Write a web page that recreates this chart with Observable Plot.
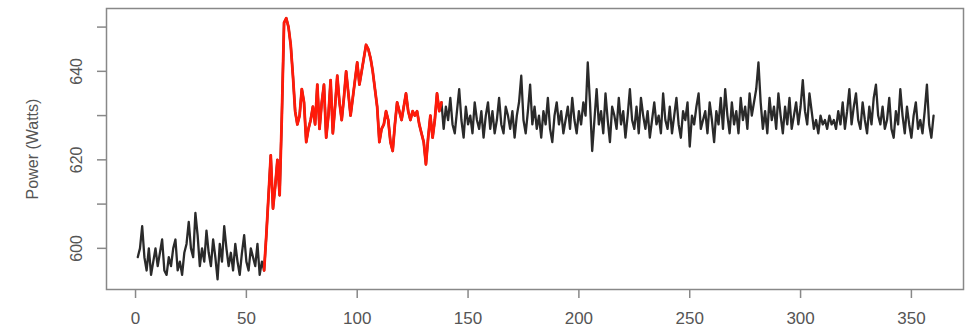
<!DOCTYPE html>
<html>
<head>
<meta charset="utf-8">
<script src="https://cdn.jsdelivr.net/npm/d3@7"></script>
<script src="https://cdn.jsdelivr.net/npm/@observablehq/plot@0.6"></script>
<style>
  html, body { margin: 0; padding: 0; background: #fff; }
  #chart { width: 965px; height: 334px; }
</style>
</head>
<body>
<div id="chart"></div>
<script>
// Power readings (Watts), one per second, starting at t = 1
const power = [
  598, 600, 605, 598, 595, 600, 594, 597, 600, 596,
  599, 602, 595, 594, 598, 596, 600, 602, 595, 597,
  594, 599, 601, 606, 600, 598, 608, 603, 596, 600,
  597, 604, 599, 596, 602, 598, 593, 601, 597, 605,
  600, 596, 599, 595, 601, 597, 594, 599, 603, 597,
  595, 600, 598, 596, 601, 594, 597, 595, 603, 612,
  621, 609, 614, 620, 612, 630, 651, 652, 650, 646,
  639, 631, 628, 630, 636, 633, 624, 627, 629, 632,
  628, 637, 627, 633, 637, 625, 630, 638, 626, 632,
  639, 633, 629, 634, 640, 635, 630, 634, 638, 642,
  637, 640, 643, 646, 645, 643, 640, 636, 632, 624,
  627, 628, 631, 629, 624, 622, 628, 633, 631, 629,
  632, 635, 631, 629, 631, 630, 631, 628, 626, 624,
  619, 625, 630, 625, 629, 635, 631, 633, 627, 632,
  629, 634, 628, 626, 631, 636, 629, 625, 632, 628,
  630, 626, 633, 629, 627, 631, 625, 630, 633, 627,
  631, 626, 629, 634, 628, 626, 632, 630, 627, 631,
  625, 630, 633, 639, 629, 626, 631, 637, 628, 632,
  627, 630, 625, 631, 628, 634, 627, 624, 630, 633,
  628, 631, 626, 629, 632, 627, 634, 629, 626, 631,
  628, 633, 630, 642, 633, 622, 629, 636, 628, 631,
  626, 635, 629, 624, 632, 630, 627, 634, 628, 631,
  625, 630, 636, 629, 627, 632, 626, 634, 630, 627,
  631, 625, 629, 633, 628, 630, 626, 635, 629, 627,
  632, 626, 630, 634, 628, 625, 631, 629, 633, 623,
  630, 628, 632, 635, 627, 629, 631, 626, 633, 629,
  624, 631, 628, 634, 627, 636, 630, 626, 633, 628,
  631, 626, 634, 629, 632, 627, 635, 630, 633, 636,
  642, 633, 627, 631, 626, 634, 629, 632, 627, 635,
  630, 626, 632, 628, 634, 627, 630, 633, 628, 632,
  638, 631, 628, 635, 631, 627, 629, 626, 630, 628,
  629, 627, 630, 628, 629, 627, 631, 628, 633, 627,
  631, 636, 628, 632, 635, 629, 627, 633, 629, 626,
  632, 628, 634, 637, 630, 628, 632, 627, 629, 634,
  627, 625, 631, 628, 636, 630, 626, 632, 628, 625,
  630, 633, 627, 629, 626, 631, 637, 628, 625, 630
];
// Highlighted interval (seconds)
const highlightStart = 58;
const highlightEnd = 138;

const xTicks = [0, 50, 100, 150, 200, 250, 300, 350];
const yTicks = [600, 610, 620, 630, 640, 650];
const yLabelled = [600, 620, 640];
const yTitle = "Power (Watts)";

const data = power.map((w, i) => ({t: i + 1, w}));
const red = data.filter(d => d.t >= highlightStart && d.t <= highlightEnd);

const font = "'Liberation Sans', Arial, sans-serif";

const chart = Plot.plot({
  width: 965,
  height: 334,
  marginLeft: 106,
  marginRight: 2,
  marginTop: 8,
  marginBottom: 45,
  style: {fontFamily: font, fontSize: "17px", color: "#555", background: "#fff"},
  x: {domain: [-13.1, 373.5]},
  y: {domain: [590.7, 654.2]},
  marks: [
    Plot.frame({stroke: "#888", strokeWidth: 1.5}),
    Plot.axisX({ticks: xTicks, tickSize: 9, tickPadding: 13, stroke: "#888", strokeWidth: 1.5, fill: "#555", label: null, fontSize: 17}),
    Plot.axisY({ticks: yTicks, tickSize: 9, tickPadding: 16, stroke: "#888", strokeWidth: 1.5, fill: "#555",
      tickFormat: d => yLabelled.includes(d) ? String(d) : "", tickRotate: -90,
      label: yTitle, labelAnchor: "center", labelArrow: "none", labelOffset: 80, fontSize: 16}),
    Plot.line(data, {x: "t", y: "w", stroke: "#2a2a2a", strokeWidth: 2.3}),
    Plot.line(red, {x: "t", y: "w", stroke: "#ff1a0a", strokeWidth: 2.8})
  ]
});
document.getElementById("chart").appendChild(chart);
</script>
</body>
</html>
